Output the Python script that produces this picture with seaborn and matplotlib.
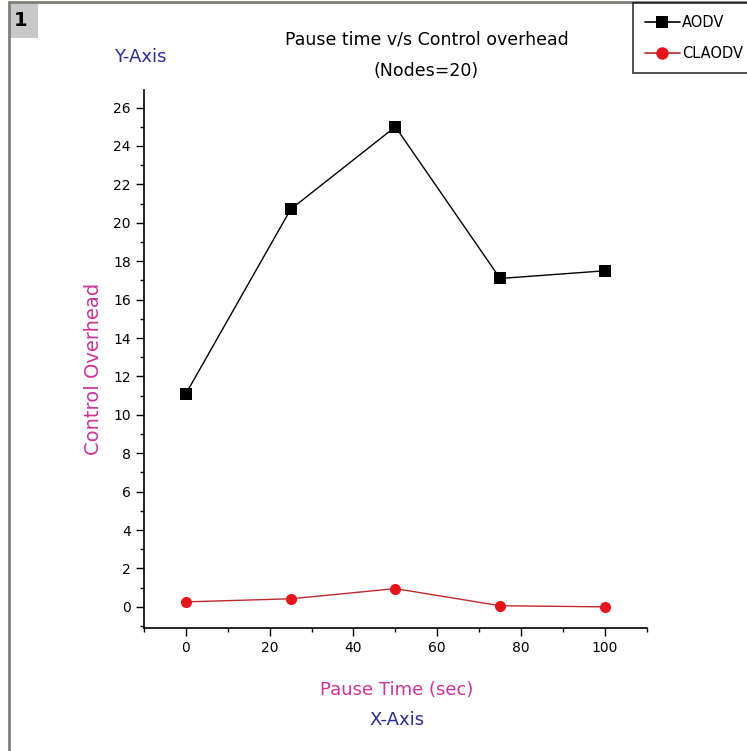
import matplotlib
matplotlib.use("Agg")
import matplotlib.pyplot as plt
import seaborn as sns
import pandas as pd
from matplotlib.patches import Rectangle
from matplotlib.ticker import MultipleLocator
from matplotlib.lines import Line2D

pause_time = [0, 25, 50, 75, 100]
aodv = [11.1, 20.7, 25.0, 17.1, 17.5]
claodv = [0.26, 0.42, 0.95, 0.06, 0.0]
series_names = ["AODV", "CLAODV"]

df = pd.DataFrame({
    "Pause Time": pause_time * 2,
    "Overhead": aodv + claodv,
    "Protocol": [series_names[0]] * len(pause_time) + [series_names[1]] * len(pause_time),
})

sns.set_theme(style="white")
plt.rcParams['font.family'] = ['DejaVu Sans']
plt.rcParams['text.color'] = 'black'

fig = plt.figure(figsize=(7.47, 7.51), dpi=100)
ax = fig.add_axes([0.1928, 0.1638, 0.673, 0.716])

palette = {"AODV": "black", "CLAODV": "#e8141c"}
sns.lineplot(data=df, x="Pause Time", y="Overhead", hue="Protocol", style="Protocol",
             markers={"AODV": "s", "CLAODV": "o"}, dashes=False, palette=palette,
             markersize=8, linewidth=1.0, markeredgewidth=0, ax=ax, legend=False)
for ln in ax.get_lines():
    if ln.get_color() == "#e8141c":
        ln.set_color("#c0282c")
        ln.set_markerfacecolor("#e8141c")
        ln.set_markeredgecolor("#e8141c")

ax.set_xlim(-10, 110)
ax.set_ylim(-1.1, 26.9)
ax.xaxis.set_major_locator(MultipleLocator(20))
ax.xaxis.set_minor_locator(MultipleLocator(10))
ax.yaxis.set_major_locator(MultipleLocator(2))
ax.yaxis.set_minor_locator(MultipleLocator(1))
ax.tick_params(axis="both", which="major", direction="out", length=6, width=1, color="black",
               labelsize=10, labelcolor="black", bottom=True, left=True)
ax.tick_params(axis="both", which="minor", direction="out", length=3, width=1, color="black",
               bottom=True, left=True)
for s in ["top", "right"]:
    ax.spines[s].set_visible(False)
for s in ["left", "bottom"]:
    ax.spines[s].set_color("black")
    ax.spines[s].set_linewidth(1.2)
ax.set_facecolor("white")

ax.set_xlabel("")
ax.set_ylabel("")
fig.text(0.1245, 1 - 369 / 751, "Control Overhead", rotation=90, color="#cc3399", fontsize=14,
         ha="center", va="center")
fig.text(0.531, 0.081, "Pause Time (sec)", color="#cc3399", fontsize=13, ha="center", va="center")
fig.text(0.531, 0.041, "X-Axis", color="#2a2a9a", fontsize=13, ha="center", va="center")
fig.text(0.188, 0.924, "Y-Axis", color="#2a2a9a", fontsize=13, ha="center", va="center")
fig.text(0.571, 0.948, "Pause time v/s Control overhead", color="black", fontsize=12.5,
         ha="center", va="center")
fig.text(0.571, 0.906, "(Nodes=20)", color="black", fontsize=12.5, ha="center", va="center")

# frame lines and page badge
fig.add_artist(Line2D([8.5 / 747, 8.5 / 747], [0, 1 - 2 / 751], transform=fig.transFigure,
                      color="#808078", linewidth=2))
fig.add_artist(Line2D([8.5 / 747, 1], [1 - 2 / 751, 1 - 2 / 751], transform=fig.transFigure,
                      color="#808078", linewidth=2))
fig.add_artist(Rectangle((9 / 747, 1 - 38 / 751), 29 / 747, 36 / 751, transform=fig.transFigure,
                         facecolor="#c8c8c8", edgecolor="none"))
fig.text(21 / 747, 1 - 20 / 751, "1", fontsize=14, fontweight="bold", ha="center", va="center",
         color="black")

handles = [
    Line2D([], [], color="black", marker="s", markersize=9, linewidth=1.2, markeredgewidth=0),
    Line2D([], [], color="#c0282c", marker="o", markersize=9, linewidth=1.2,
           markerfacecolor="#e8141c", markeredgewidth=0),
]
leg = fig.legend(handles, series_names, loc="upper left", bbox_to_anchor=(633 / 747, 1 - 3 / 751),
                 frameon=True, fancybox=False, fontsize=10.5, handlelength=2.4, borderpad=0.8,
                 labelspacing=1.15, handletextpad=0.15, borderaxespad=0, labelcolor="black")
leg.get_frame().set_edgecolor("black")
leg.get_frame().set_linewidth(1.2)

fig.savefig("out.png", dpi=100, facecolor="white")
